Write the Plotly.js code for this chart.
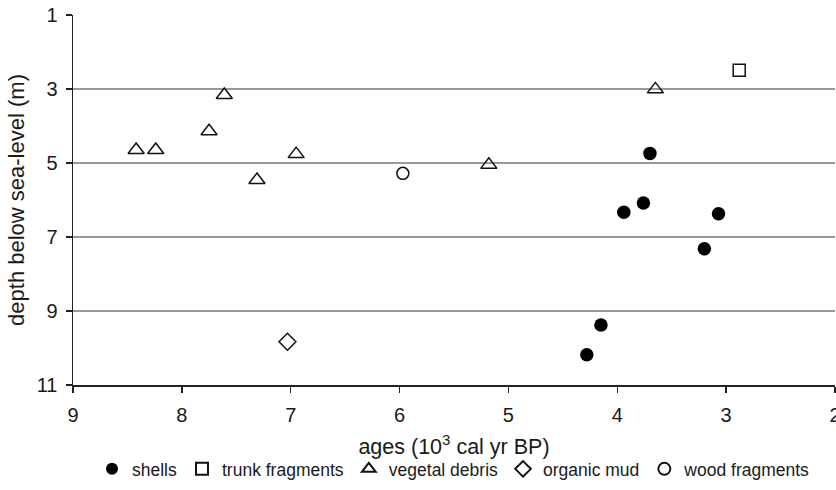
<!DOCTYPE html>
<html>
<head>
<meta charset="utf-8">
<script src="https://cdn.plot.ly/plotly-3.0.1.min.js"></script>
<style>html,body{margin:0;padding:0;background:#fff;}#chart{width:836px;height:490px;}</style>
</head>
<body>
<div id="chart"></div>
<script>
// ages (10^3 cal yr BP) and depth below sea-level (m)
const shellsAge = [3.70, 3.76, 3.94, 3.07, 3.20, 4.15, 4.28];
const shellsDepth = [4.74, 6.08, 6.33, 6.37, 7.32, 9.38, 10.18];
const trunkAge = [2.88];
const trunkDepth = [2.49];
const vegetalAge = [8.42, 8.24, 7.75, 7.61, 7.31, 6.95, 5.18, 3.65];
const vegetalDepth = [4.65, 4.65, 4.14, 3.16, 5.46, 4.76, 5.05, 3.01];
const mudAge = [7.03];
const mudDepth = [9.83];
const woodAge = [5.97];
const woodDepth = [5.28];
const xTicks = [9, 8, 7, 6, 5, 4, 3, 2];
const yTicks = [1, 3, 5, 7, 9, 11];
const gridTicks = [3, 5, 7, 9];

const lineCol = '#111';
const traces = [
  {x: shellsAge, y: shellsDepth, name: 'shells', mode: 'markers', type: 'scatter',
   marker: {symbol: 'circle', size: 13.5, color: '#000'}},
  {x: trunkAge, y: trunkDepth, name: 'trunk fragments', mode: 'markers', type: 'scatter',
   marker: {symbol: 'square-open', size: 12, color: lineCol, line: {width: 1.5}}},
  {x: vegetalAge, y: vegetalDepth, name: 'vegetal debris', mode: 'markers', type: 'scatter',
   marker: {symbol: 'triangle-up-open', size: 14, color: lineCol, line: {width: 1.5}}},
  {x: mudAge, y: mudDepth, name: 'organic mud', mode: 'markers', type: 'scatter',
   marker: {symbol: 'diamond-open', size: 13, color: lineCol, line: {width: 1.5}}},
  {x: woodAge, y: woodDepth, name: 'wood fragments', mode: 'markers', type: 'scatter',
   marker: {symbol: 'circle-open', size: 12, color: lineCol, line: {width: 1.5}}},
  {x: [], y: [], yaxis: 'y2', showlegend: false, hoverinfo: 'skip', type: 'scatter'}
];

const font = {family: '"Liberation Sans", Arial, Helvetica, sans-serif', color: '#1a1a1a'};
const layout = {
  width: 836, height: 490,
  margin: {l: 73, r: 1, t: 15, b: 105, pad: 0},
  paper_bgcolor: '#fff', plot_bgcolor: '#fff',
  font: Object.assign({size: 17}, font),
  showlegend: true,
  legend: {orientation: 'h', x: 0.5, xanchor: 'center', xref: 'paper',
           y: -0.227, yanchor: 'middle', font: Object.assign({size: 17.5}, font),
           itemsizing: 'constant', tracegroupgap: 0},
  xaxis: {range: [9, 2], tickvals: xTicks, ticktext: xTicks.map(String),
          showgrid: false, zeroline: false, showline: true, linecolor: '#222', linewidth: 1.5,
          ticks: 'outside', ticklen: 6, tickwidth: 1.5, tickcolor: '#222',
          tickfont: Object.assign({size: 20}, font), ticklabelstandoff: 5,
          ticklabeloverflow: 'allow',
          title: {text: 'ages (10<sup>3</sup> cal yr BP)', font: Object.assign({size: 21.5}, font), standoff: 14}},
  yaxis: {range: [11, 1], tickvals: yTicks, ticktext: yTicks.map(String),
          showgrid: false, zeroline: false, showline: true, linecolor: '#222', linewidth: 1.5,
          ticks: 'outside', ticklen: 6, tickwidth: 1.5, tickcolor: '#222',
          tickfont: Object.assign({size: 20}, font), ticklabelstandoff: 4,
          ticklabeloverflow: 'allow',
          title: {text: 'depth below sea-level (m)', font: Object.assign({size: 22}, font), standoff: 6}},
  yaxis2: {overlaying: 'y', matches: 'y', range: [11, 1], tickvals: gridTicks,
           showgrid: true, gridcolor: '#999', gridwidth: 1.3, showticklabels: false,
           ticks: '', showline: false, zeroline: false, side: 'left'}
};

Plotly.newPlot('chart', traces, layout, {staticPlot: true, displayModeBar: false});
</script>
</body>
</html>
